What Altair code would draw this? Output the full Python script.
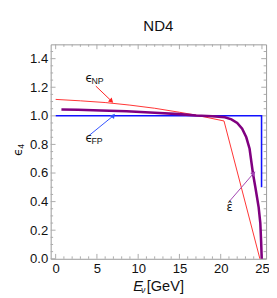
import altair as alt
import pandas as pd

# ---- data ----
np_x = [0, 3, 6, 9, 12, 15, 17, 20.4, 24.75]
np_y = [1.115, 1.105, 1.093, 1.075, 1.053, 1.025, 1.005, 0.964, 0.0]

hat_x = [0.7, 2.7, 5.5, 8.6, 12, 15, 17, 19, 20.5, 21.3, 22.0, 22.6, 23.1, 23.5, 23.9, 24.2, 24.4, 24.6, 24.8, 24.9, 24.97]
hat_y = [1.045, 1.043, 1.038, 1.032, 1.022, 1.012, 1.003, 0.997, 0.99, 0.975, 0.95, 0.91, 0.85, 0.77, 0.6, 0.5, 0.43, 0.36, 0.25, 0.12, 0.0]

fp_x = [0, 24.95, 24.95]
fp_y = [1.0, 1.0, 0.5]

x_major = [0, 5, 10, 15, 20, 25]
x_minor = [v for v in range(0, 26) if v % 5 != 0]
y_major = [0.0, 0.2, 0.4, 0.6, 0.8, 1.0, 1.2, 1.4]
y_minor = [round(0.05 * i, 2) for i in range(1, 30) if i % 4 != 0]

W, H = 222, 221
XDOM = [-0.6, 25.5]
YDOM = [0, 1.5]
FONT = "Liberation Sans"

rows = []
for name, xs_, ys_ in [("NP", np_x, np_y), ("hat", hat_x, hat_y), ("FP", fp_x, fp_y)]:
    for i, (a, b) in enumerate(zip(xs_, ys_)):
        rows.append({"series": name, "E": a, "eps": b, "o": i})
df = pd.DataFrame(rows)

xs = alt.Scale(domain=XDOM, nice=False, zero=False)
ys = alt.Scale(domain=YDOM, nice=False, zero=False)

def X(f):
    return alt.X(f, scale=xs, axis=None)

def Y(f):
    return alt.Y(f, scale=ys, axis=None)

def line(name, color, width, with_axes=False):
    if with_axes:
        xe = alt.X("E:Q", scale=xs, title=None,
                   axis=alt.Axis(values=x_major, ticks=False, domain=False, grid=False, labelOverlap=False,
                                 labelFont=FONT, labelFontSize=13.5, labelColor="#111", labelPadding=3))
        ye = alt.Y("eps:Q", scale=ys, title=None,
                   axis=alt.Axis(values=y_major, format=".1f", ticks=False, domain=False, grid=False,
                                 labelOverlap=False, labelFont=FONT, labelFontSize=13.5,
                                 labelColor="#111", labelPadding=3))
    else:
        xe, ye = X("E:Q"), Y("eps:Q")
    return alt.Chart(df[df.series == name]).mark_line(color=color, strokeWidth=width).encode(
        x=xe, y=ye, order="o:Q")

red = line("NP", "#ff3030", 1, with_axes=True)
blue = line("FP", "#1010ff", 1.6)
purple = line("hat", "#800080", 2.6)

# ---- frame ticks (inside) ----
tick_color = "#aaaaaa"

def xticks(vals, L, top):
    y0, y1 = (0, L) if top else (H, H - L)
    return alt.Chart(pd.DataFrame({"v": vals})).mark_rule(color=tick_color, strokeWidth=1).encode(
        x=X("v:Q"), y=alt.value(y0), y2=alt.value(y1))

def yticks(vals, L, right):
    x0, x1 = (W, W - L) if right else (0, L)
    return alt.Chart(pd.DataFrame({"v": vals})).mark_rule(color=tick_color, strokeWidth=1).encode(
        y=Y("v:Q"), x=alt.value(x0), x2=alt.value(x1))

ticks = [xticks(x_major, 5, t) for t in (True, False)] + [xticks(x_minor, 2.5, t) for t in (True, False)] + \
        [yticks(y_major, 5, r) for r in (True, False)] + [yticks(y_minor, 2.5, r) for r in (True, False)]

# ---- annotations ----
arrows = pd.DataFrame({
    "name": ["NP", "FP", "hat"],
    "x0": [4.87, 4.04, 21.1], "y0": [1.208, 0.862, 0.405],
    "x1": [6.70, 6.94, 23.94], "y1": [1.107, 0.998, 0.595],
    "ang": [134, 39, 43],
    "col": ["#ff2020", "#3050ff", "#a040b0"],
})
arrow_lines = alt.Chart(arrows).mark_rule(strokeWidth=1).encode(
    x=X("x0:Q"), y=Y("y0:Q"), x2="x1:Q", y2="y1:Q",
    color=alt.Color("col:N", scale=None))
arrow_heads = alt.Chart(arrows).mark_point(shape="triangle", filled=True, size=30, opacity=1).encode(
    x=X("x1:Q"), y=Y("y1:Q"), angle=alt.Angle("ang:Q", scale=None),
    color=alt.Color("col:N", scale=None))

labels = pd.DataFrame({
    "name": ["NP", "FP"],
    "x": [3.63, 3.63], "y": [1.236, 0.817],
    "sub": ["NP", "FP"],
})
eps_txt = alt.Chart(labels).mark_text(text="ϵ", align="left", baseline="alphabetic",
                                      font="DejaVu Sans", fontSize=12, color="#111").encode(
    x=X("x:Q"), y=Y("y:Q"))
sub_txt = alt.Chart(labels).mark_text(align="left", baseline="alphabetic", dx=6, dy=2,
                                      font=FONT, fontSize=9, color="#111").encode(
    x=X("x:Q"), y=Y("y:Q"), text="sub:N")

hat_lab = pd.DataFrame({"x": [20.7], "y": [0.335], "t": ["ε̂"]})
hat_txt = alt.Chart(hat_lab).mark_text(align="left", baseline="alphabetic",
                                      font="DejaVu Sans", fontSize=12, color="#111").encode(
    x=X("x:Q"), y=Y("y:Q"), text="t:N")

# ---- title and axis titles composed of pieces ----
def txt(t, px, py, fs, style="normal", font=FONT, align="left", baseline="alphabetic", angle=0):
    return alt.Chart(pd.DataFrame({"t": [t]})).mark_text(
        align=align, baseline=baseline, font=font, fontSize=fs, fontStyle=style,
        angle=angle, color="#111").encode(text="t:N", x=alt.value(px), y=alt.value(py))

title = txt("ND4", W / 2, -14, 15.5, align="center")
xt_pieces = [
    txt("E", 85, 254, 15, "italic"),
    txt("ν", 93, 256, 9, "italic"),
    txt("[GeV]", 99, 254, 15),
]
ytitle = [
    txt("ϵ", -33.5, 111, 13, font="DejaVu Sans", align="center", baseline="middle", angle=270),
    txt("4", -31, 105, 9, align="center", baseline="middle", angle=270),
]

chart = alt.layer(
    red, *ticks, blue, purple, arrow_lines, arrow_heads, eps_txt, sub_txt, hat_txt,
    title, *xt_pieces, *ytitle,
).resolve_axis(x="independent", y="independent").properties(
    width=W, height=H,
    autosize=alt.AutoSizeParams(type="none"),
    padding={"left": 44, "top": 33, "right": 3, "bottom": 38},
).configure_view(stroke="#999999", strokeWidth=1)

chart.save("out.html", embed_options={"renderer": "svg", "actions": False})
